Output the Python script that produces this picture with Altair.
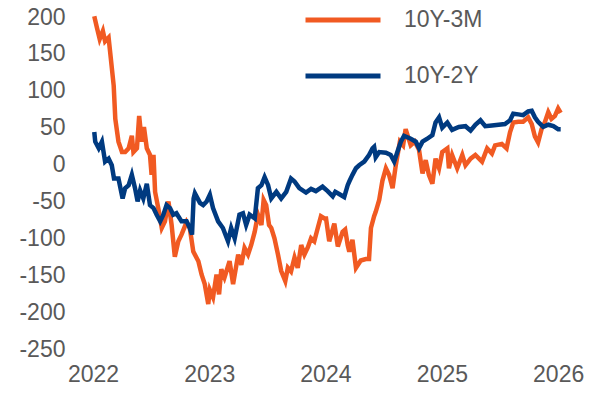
import altair as alt
import pandas as pd

series_names = ["10Y-3M", "10Y-2Y"]
colors = ["#F15A22", "#003A80"]

dates_3m = [
    "2022-01-05", "2022-01-13", "2022-01-22", "2022-02-01", "2022-02-08", "2022-02-19", "2022-02-24",
    "2022-03-07", "2022-03-12", "2022-03-22", "2022-04-02", "2022-04-12", "2022-04-23", "2022-05-03",
    "2022-05-08", "2022-05-19", "2022-05-26", "2022-06-03", "2022-06-10", "2022-06-19", "2022-06-29",
    "2022-07-04", "2022-07-10", "2022-07-15", "2022-07-25", "2022-08-05", "2022-08-15", "2022-08-26",
    "2022-09-05", "2022-09-15", "2022-09-26", "2022-10-06", "2022-10-22", "2022-11-01", "2022-11-12",
    "2022-11-28", "2022-12-08", "2022-12-18", "2022-12-29", "2023-01-03", "2023-01-13", "2023-01-24",
    "2023-02-01", "2023-02-08", "2023-02-18", "2023-03-06", "2023-03-17", "2023-04-02", "2023-04-12",
    "2023-04-22", "2023-05-03", "2023-05-13", "2023-05-24", "2023-06-03", "2023-06-14", "2023-06-21",
    "2023-06-29", "2023-07-08", "2023-07-15", "2023-07-25", "2023-08-05", "2023-08-15", "2023-08-28",
    "2023-09-05", "2023-09-15", "2023-09-26", "2023-10-06", "2023-10-17", "2023-10-27", "2023-11-07",
    "2023-11-17", "2023-11-27", "2023-12-08", "2023-12-18", "2023-12-29", "2024-01-03", "2024-01-13",
    "2024-01-29", "2024-02-09", "2024-02-24", "2024-03-03", "2024-03-11", "2024-03-16", "2024-03-26",
    "2024-04-06", "2024-04-21", "2024-05-07", "2024-05-17", "2024-05-23", "2024-06-02", "2024-06-07",
    "2024-06-18", "2024-06-28", "2024-07-09", "2024-07-19", "2024-07-30", "2024-08-09", "2024-08-22",
    "2024-09-01", "2024-09-09", "2024-09-25", "2024-10-08", "2024-10-21", "2024-11-01", "2024-11-11",
    "2024-11-21", "2024-12-02", "2024-12-12", "2024-12-23", "2025-01-02", "2025-01-18", "2025-01-23",
    "2025-02-02", "2025-02-18", "2025-03-06", "2025-03-16", "2025-04-01", "2025-04-16", "2025-05-07",
    "2025-05-23", "2025-06-07", "2025-06-17", "2025-07-08", "2025-07-23", "2025-08-03", "2025-08-13",
    "2025-08-29", "2025-09-13", "2025-09-29", "2025-10-10", "2025-10-20", "2025-10-30", "2025-11-10",
    "2025-11-20", "2025-12-01", "2025-12-11", "2025-12-22", "2026-01-01", "2026-01-09",
]
values_3m = [
    201, 186, 170, 181, 167, 172, 152,
    107, 62, 31, 17, 17, 22, 39,
    17, 22, 66, 31, 51, 22, 13,
    -14, 13, -37, -59, -86, -77, -50,
    -82, -125, -104, -95, -78, -86, -118,
    -131, -149, -162, -189, -170, -180, -149,
    -176, -142, -153, -131, -162, -122, -136,
    -113, -122, -109, -91, -68, -82, -48,
    -55, -82, -86, -100, -122, -144, -158,
    -140, -145, -126, -140, -109, -122, -112,
    -100, -104, -86, -70, -73, -73, -104,
    -80, -111, -91, -88, -109, -118, -102,
    -140, -130, -128, -128, -86, -70, -64,
    -48, -22, -5, -14, -32, -1, 31,
    26, 48, 26, 31, 20, -12, 6,
    -14, -26, 8, -5, 17, 22, -5,
    13, -5, 13, -1, 8, 13, 4,
    22, 15, 26, 28, 22, 44, 57,
    58, 58, 64, 55, 38, 30, 48,
    57, 71, 62, 66, 76, 70,
]

dates_2y = [
    "2022-01-05", "2022-01-08", "2022-01-19", "2022-01-29", "2022-02-08", "2022-02-19", "2022-03-01",
    "2022-03-08", "2022-03-22", "2022-04-04", "2022-04-12", "2022-04-23", "2022-05-03", "2022-05-13",
    "2022-05-21", "2022-05-29", "2022-06-08", "2022-06-19", "2022-06-29", "2022-07-10", "2022-07-20",
    "2022-07-31", "2022-08-10", "2022-08-20", "2022-08-31", "2022-09-10", "2022-09-20", "2022-10-06",
    "2022-10-22", "2022-11-01", "2022-11-08", "2022-11-13", "2022-11-17", "2022-12-03", "2022-12-13",
    "2022-12-24", "2023-01-03", "2023-01-13", "2023-01-29", "2023-02-13", "2023-03-01", "2023-03-11",
    "2023-03-22", "2023-04-06", "2023-04-17", "2023-04-27", "2023-05-08", "2023-05-24", "2023-06-03",
    "2023-06-14", "2023-06-24", "2023-07-05", "2023-07-15", "2023-07-31", "2023-08-15", "2023-08-31",
    "2023-09-15", "2023-09-26", "2023-10-11", "2023-11-01", "2023-11-17", "2023-12-02", "2023-12-23",
    "2024-01-08", "2024-01-24", "2024-02-01", "2024-02-13", "2024-02-29", "2024-03-11", "2024-03-16",
    "2024-03-26", "2024-04-06", "2024-04-16", "2024-05-02", "2024-05-17", "2024-05-28", "2024-06-02",
    "2024-06-07", "2024-06-18", "2024-07-09", "2024-07-24", "2024-08-04", "2024-08-14", "2024-08-25",
    "2024-09-04", "2024-09-25", "2024-10-11", "2024-10-21", "2024-11-01", "2024-11-16", "2024-12-02",
    "2024-12-12", "2024-12-23", "2025-01-02", "2025-01-18", "2025-02-02", "2025-02-23", "2025-03-16",
    "2025-04-01", "2025-04-16", "2025-05-02", "2025-05-17", "2025-06-07", "2025-06-28", "2025-07-18",
    "2025-08-03", "2025-08-13", "2025-08-29", "2025-09-13", "2025-09-29", "2025-10-10", "2025-10-20",
    "2025-10-30", "2025-11-15", "2025-12-01", "2025-12-17", "2026-01-01", "2026-01-09",
]
values_2y = [
    44, 31, 22, 31, 4, 8, -1,
    -19, -19, -46, -32, -28, -14, -32,
    -50, -35, -46, -26, -55, -59, -68,
    -77, -68, -55, -59, -68, -66, -77,
    -77, -86, -95, -46, -39, -52, -55,
    -50, -41, -59, -77, -86, -104, -86,
    -100, -68, -66, -82, -68, -73, -32,
    -28, -17, -28, -46, -37, -46, -37,
    -19, -23, -32, -38, -33, -36, -30,
    -36, -43, -37, -40, -44, -28, -23,
    -14, -5, -1, 4, 13, 22, 24,
    10, 17, 16, 13, 4, 17, 31,
    39, 35, 31, 22, 31, 35, 40,
    57, 64, 50, 57, 47, 51, 52,
    46, 54, 60, 52, 53, 54, 55,
    60, 69, 68, 67, 72, 73, 64,
    58, 51, 54, 52, 48, 48,
]

y_ticks = [-250, -200, -150, -100, -50, 0, 50, 100, 150, 200]

df = pd.concat([
    pd.DataFrame({"date": dates_3m, "value": values_3m, "series": series_names[0]}),
    pd.DataFrame({"date": dates_2y, "value": values_2y, "series": series_names[1]}),
])
df["date"] = pd.to_datetime(df["date"])

font = "Liberation Sans"
gray = "#595959"

chart = alt.Chart(df).mark_line(strokeWidth=4.5, interpolate="linear").encode(
    x=alt.X(
        "date:T",
        scale=alt.Scale(domain=["2022-01-01T00:00:00", "2026-01-10T00:00:00"], nice=False),
        axis=alt.Axis(
            title=None, format="%Y", tickCount={"interval": "year", "step": 1},
            grid=False, domain=False, ticks=False, labelPadding=14,
            labelFontSize=23, labelColor=gray, labelFont=font, labelFlush=False,
            labelOverlap=False,
        ),
    ),
    y=alt.Y(
        "value:Q",
        scale=alt.Scale(domain=[-250, 200], nice=False, zero=False),
        axis=alt.Axis(
            title=None, values=y_ticks, grid=False, domain=False, ticks=False,
            labelPadding=28, labelFontSize=23, labelColor=gray, labelFont=font,
            labelExpr="(datum.value < 0 ? '-' : '') + abs(datum.value)",
        ),
    ),
    color=alt.Color(
        "series:N",
        scale=alt.Scale(domain=series_names, range=colors),
        sort=series_names,
        legend=alt.Legend(
            title=None, orient="none", legendX=210, legendY=-37,
            symbolType="stroke", symbolSize=5625, symbolStrokeWidth=5,
            labelFontSize=23, labelColor=gray, labelFont=font, labelOffset=21,
            rowPadding=4,
        ),
    ),
).properties(
    width=468,
    height=332,
    background="white",
    padding={"left": 85, "top": 9, "right": 24, "bottom": 36},
    autosize=alt.AutoSizeParams(type="none"),
).configure_view(stroke=None)

chart.save("out.html", embed_options={"renderer": "svg", "actions": False})
